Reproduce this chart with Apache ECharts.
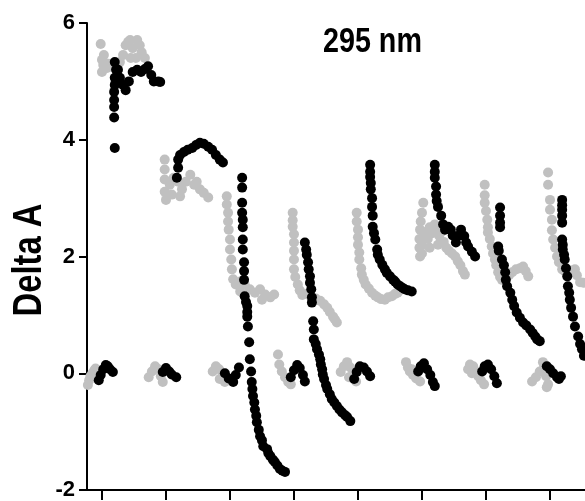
<!DOCTYPE html>
<html><head><meta charset="utf-8">
<script src="https://cdn.jsdelivr.net/npm/echarts@6/dist/echarts.min.js"></script>
<style>html,body{margin:0;padding:0;background:#fff}#c{width:585px;height:501px}</style>
</head><body><div id="c"></div>
<script>
const titleText = '295 nm';
const yAxisName = 'Delta A';
const yTicks = [-2, 0, 2, 4, 6];
const xTicks = [0, 1, 2, 3, 4, 5, 6, 7];

// grey series (baselines + pulses)
const greyBaseline = [
 [-0.22,-0.2],[-0.2,-0.12],[-0.18,-0.05],[-0.15,0.0],[-0.12,0.05],[-0.1,0.08],[-0.08,0.0],[-0.06,-0.05],[-0.04,-0.02],
 [0.73,-0.07],[0.78,0.03],[0.83,0.12],[0.88,0.07],[0.92,-0.05],[0.95,-0.15],
 [1.73,0.03],[1.78,0.12],[1.83,0.07],[1.88,-0.07],[1.92,-0.15],[1.84,-0.1],
 [2.75,0.32],[2.77,0.15],[2.81,0.03],[2.86,-0.07],[2.91,-0.15],[2.95,-0.19],
 [3.73,0.02],[3.78,0.12],[3.83,0.19],[3.88,0.1],[3.92,-0.02],[3.97,-0.14],[3.86,-0.07],
 [4.75,0.19],[4.78,0.1],[4.81,0.03],[4.86,-0.03],[4.91,-0.09],[4.97,-0.14],[4.84,0.07],
 [5.72,0.07],[5.75,0.15],[5.8,0.12],[5.84,0.03],[5.88,-0.05],[5.92,-0.12],[5.97,-0.19],[5.78,0.0],
 [6.72,-0.14],[6.78,-0.07],[6.84,0.03],[6.89,0.19],[6.91,0.12],[6.94,-0.05],[6.97,-0.19],[6.95,-0.24]
];
const greyPulse = [
 [-0.02,5.64],[0.03,5.45],[0.0,5.37],[0.02,5.28],[0.0,5.16],[0.08,5.23],[0.1,5.3],
 [0.28,5.33],[0.33,5.45],[0.37,5.62],[0.41,5.68],[0.44,5.71],[0.48,5.57],[0.45,5.4],[0.53,5.4],[0.55,5.71],[0.59,5.62],[0.62,5.5],[0.67,5.4],
 [0.98,3.66],[0.98,3.49],[0.98,3.32],[0.98,3.11],[1.0,2.97],[1.06,3.23],[1.12,3.35],[1.19,3.28],[1.25,3.15],[1.31,3.28],[1.38,3.4],[1.44,3.23],[1.48,3.28],[1.53,3.15],[1.59,3.09],[1.66,3.01],[1.09,3.06],[1.22,3.03],
 [1.95,3.03],[1.95,2.89],[1.97,2.75],[1.97,2.6],[1.98,2.46],[2.0,2.29],[2.0,2.12],[2.02,1.95],[2.03,1.78],[2.05,1.61],[2.09,1.52],[2.16,1.57],[2.23,1.52],[2.31,1.44],[2.39,1.38],[2.47,1.44],[2.55,1.35],[2.63,1.3],[2.69,1.35],[2.16,1.4],[2.5,1.26],
 [2.98,2.75],[2.98,2.62],[2.98,2.51],[3.0,2.38],[3.0,2.24],[3.0,2.1],[3.0,1.95],[3.0,1.78],[3.02,1.65],[3.06,1.52],[3.09,1.42],[3.13,1.34],[3.2,1.36],[3.27,1.3],[3.34,1.28],[3.41,1.24],[3.47,1.18],[3.52,1.12],[3.56,1.05],[3.61,0.97],[3.64,0.92],[3.67,0.87],
 [3.98,2.75],[3.98,2.6],[4.0,2.46],[4.0,2.33],[4.0,2.2],[4.02,2.07],[4.02,1.95],[4.05,1.8],[4.06,1.69],[4.09,1.6],[4.12,1.52],[4.17,1.45],[4.22,1.38],[4.27,1.33],[4.31,1.3],[4.36,1.27],[4.42,1.26],[4.47,1.3],[4.53,1.32],[4.58,1.36],[4.62,1.38],
 [5.02,2.92],[5.0,2.75],[4.98,2.6],[4.97,2.46],[4.96,2.3],[4.96,2.15],[4.97,2.0],[5.0,2.2],[5.03,2.35],[5.06,2.42],[5.09,2.3],[5.12,2.5],[5.16,2.4],[5.2,2.55],[5.23,2.45],[5.27,2.35],[5.3,2.42],[5.34,2.25],[5.38,2.15],[5.42,2.1],[5.47,2.05],[5.52,2.0],[5.56,1.92],[5.6,1.85],[5.64,1.75],[5.67,1.69],[5.0,2.05],[5.12,2.15],[5.25,2.2],
 [5.98,3.23],[5.98,3.05],[5.98,2.92],[6.0,2.78],[6.02,2.63],[6.03,2.5],[6.03,2.41],[6.06,2.3],[6.09,2.17],[6.11,2.05],[6.14,1.95],[6.16,1.85],[6.19,1.73],[6.22,1.65],[6.25,1.6],[6.3,1.62],[6.36,1.68],[6.41,1.73],[6.47,1.78],[6.53,1.8],[6.58,1.83],[6.62,1.75],[6.66,1.66],
 [6.97,3.44],[6.97,3.23],[7.0,2.97],[7.0,2.8],[7.03,2.63],[7.03,2.45],[7.05,2.29],[7.08,2.15],[7.11,2.0],[7.14,1.9],[7.19,1.78],[7.23,1.75],[7.28,1.73],[7.33,1.76],[7.39,1.78],[7.42,1.68],[7.47,1.56],[7.52,1.55]
];

// black series (baselines + pulses)
const blackBaseline = [
 [-0.05,-0.12],[-0.02,-0.03],[0.02,0.07],[0.06,0.14],[0.09,0.12],[0.125,0.07],[0.17,0.02],
 [0.95,0.02],[1.0,0.09],[1.05,0.03],[1.09,-0.02],[1.16,-0.07],
 [1.92,0.0],[1.98,-0.09],[2.05,-0.15],[2.09,-0.03],[2.14,0.1],
 [2.95,-0.07],[3.0,0.05],[3.05,0.14],[3.09,0.09],[3.14,-0.03],[3.17,-0.14],
 [3.94,-0.1],[3.98,0.02],[4.03,0.12],[4.09,0.1],[4.14,0.03],[4.19,-0.05],
 [4.94,0.03],[4.98,0.12],[5.03,0.17],[5.08,0.07],[5.13,-0.03],[5.17,-0.15],[5.2,-0.22],
 [5.94,0.03],[5.98,0.12],[6.03,0.15],[6.08,0.07],[6.13,-0.05],[6.17,-0.17],
 [6.95,0.12],[7.0,0.07],[7.05,0.0],[7.11,-0.07],[7.14,-0.1],[7.17,-0.05]
];
const blackPulse = [
 [0.2,5.33],[0.22,5.2],[0.2,5.06],[0.2,4.94],[0.19,4.82],[0.19,4.68],[0.19,4.56],[0.19,4.38],[0.2,3.86],
 [0.25,5.2],[0.28,5.06],[0.33,4.94],[0.37,4.85],[0.42,5.0],[0.48,5.16],[0.55,5.2],[0.61,5.16],[0.67,5.21],[0.72,5.26],[0.77,5.11],[0.81,5.0],[0.88,5.0],[0.91,4.99],
 [1.17,3.35],[1.19,3.52],[1.19,3.66],[1.22,3.74],[1.28,3.79],[1.34,3.83],[1.41,3.86],[1.47,3.91],[1.53,3.95],[1.59,3.93],[1.66,3.88],[1.72,3.83],[1.78,3.74],[1.84,3.66],[1.89,3.61],
 [2.19,3.35],[2.19,3.18],[2.19,2.92],[2.19,2.75],[2.2,2.63],[2.2,2.5],[2.2,2.29],[2.2,2.12],[2.22,1.9],[2.22,1.75],[2.22,1.6],[2.23,1.32],[2.25,1.22],[2.27,1.15],[2.27,1.05],[2.27,0.97],[2.28,0.8],[2.3,0.53],[2.31,0.24],[2.33,0.03],[2.34,-0.15],[2.35,-0.27],[2.36,-0.39],[2.38,-0.5],[2.39,-0.62],[2.41,-0.73],[2.42,-0.84],[2.45,-0.97],[2.47,-1.08],[2.5,-1.15],[2.52,-1.25],[2.58,-1.3],[2.6,-1.37],[2.63,-1.42],[2.67,-1.48],[2.7,-1.52],[2.74,-1.58],[2.78,-1.64],[2.82,-1.67],[2.86,-1.69],
 [3.17,2.24],[3.19,2.12],[3.2,2.03],[3.22,1.9],[3.23,1.78],[3.25,1.66],[3.25,1.55],[3.27,1.44],[3.28,1.3],[3.28,1.21],[3.3,0.89],[3.31,0.75],[3.31,0.58],[3.34,0.5],[3.36,0.41],[3.39,0.32],[3.41,0.24],[3.42,0.15],[3.44,0.07],[3.45,-0.02],[3.47,-0.1],[3.5,-0.2],[3.52,-0.27],[3.56,-0.36],[3.59,-0.44],[3.63,-0.5],[3.67,-0.56],[3.71,-0.62],[3.75,-0.67],[3.8,-0.72],[3.83,-0.75],[3.88,-0.82],
 [4.19,3.57],[4.19,3.45],[4.19,3.36],[4.2,3.26],[4.2,3.15],[4.22,3.0],[4.22,2.85],[4.23,2.7],[4.23,2.51],[4.25,2.4],[4.27,2.29],[4.3,2.12],[4.31,2.03],[4.34,1.95],[4.38,1.86],[4.42,1.78],[4.45,1.72],[4.5,1.66],[4.55,1.6],[4.58,1.57],[4.62,1.52],[4.66,1.49],[4.7,1.46],[4.73,1.44],[4.78,1.42],[4.84,1.4],
 [5.2,3.57],[5.2,3.45],[5.2,3.35],[5.22,3.2],[5.22,3.06],[5.23,2.95],[5.25,2.85],[5.3,2.7],[5.33,2.55],[5.36,2.46],[5.41,2.51],[5.45,2.46],[5.48,2.36],[5.53,2.24],[5.56,2.35],[5.61,2.46],[5.66,2.35],[5.69,2.24],[5.72,2.17],[5.78,2.08],[5.83,2.0],
 [6.22,2.84],[6.22,2.7],[6.22,2.58],[6.22,2.5],[6.19,2.17],[6.2,2.1],[6.25,1.95],[6.28,1.85],[6.3,1.73],[6.31,1.6],[6.33,1.49],[6.38,1.38],[6.41,1.26],[6.44,1.15],[6.48,1.04],[6.53,0.95],[6.58,0.87],[6.63,0.82],[6.69,0.75],[6.73,0.69],[6.77,0.63],[6.8,0.58],[6.84,0.55],
 [7.19,2.97],[7.19,2.88],[7.19,2.8],[7.19,2.7],[7.19,2.58],[7.19,2.29],[7.2,2.2],[7.2,2.12],[7.22,2.03],[7.23,1.95],[7.25,1.8],[7.27,1.66],[7.28,1.49],[7.3,1.38],[7.31,1.26],[7.33,1.12],[7.36,0.97],[7.39,0.8],[7.44,0.63],[7.47,0.5],[7.5,0.41],[7.53,0.3]
];

const FONT = '"Liberation Sans",Arial,sans-serif';
const chart = echarts.init(document.getElementById('c'), null, {renderer:'canvas'});
chart.setOption({
  animation: false,
  backgroundColor: '#fff',
  graphic: [
    {type: 'text', x: 323, y: 42, scaleX: 0.82, silent: true,
     style: {text: titleText, font: 'bold 35px ' + FONT, fill: '#000', textAlign: 'left', textVerticalAlign: 'middle'}},
    {type: 'text', x: 30, y: 260, rotation: Math.PI / 2, scaleX: 0.82, silent: true,
     style: {text: yAxisName, font: 'bold 40px ' + FONT, fill: '#000', textAlign: 'center', textVerticalAlign: 'middle'}}
  ],
  grid: {left: 87, right: 0, top: 23, bottom: 9, containLabel: false},
  xAxis: {type: 'value', min: -0.234, max: 7.547,
    axisLine: {show: true, onZero: false, lineStyle: {color: '#000', width: 2}},
    axisTick: {show: true, inside: false, length: 10, lineStyle: {color: '#000', width: 2}, customValues: xTicks},
    axisLabel: {show: false},
    splitLine: {show: false}},
  yAxis: {type: 'value', min: -2, max: 6, interval: 2,
    axisLine: {show: true, onZero: false, lineStyle: {color: '#000', width: 2}},
    axisTick: {show: true, inside: false, length: 8, lineStyle: {color: '#000', width: 2}},
    axisLabel: {fontFamily: FONT, fontWeight: 'bold', fontSize: 22, color: '#000', margin: 12},
    splitLine: {show: false}},
  series: [
    {type: 'scatter', data: greyBaseline.concat(greyPulse), symbol: 'circle', symbolSize: 10,
     itemStyle: {color: '#c0c0c0', opacity: 1}, clip: true, z: 2},
    {type: 'scatter', data: blackBaseline.concat(blackPulse), symbol: 'circle', symbolSize: 10,
     itemStyle: {color: '#000', opacity: 1}, clip: true, z: 3}
  ]
});
</script></body></html>
